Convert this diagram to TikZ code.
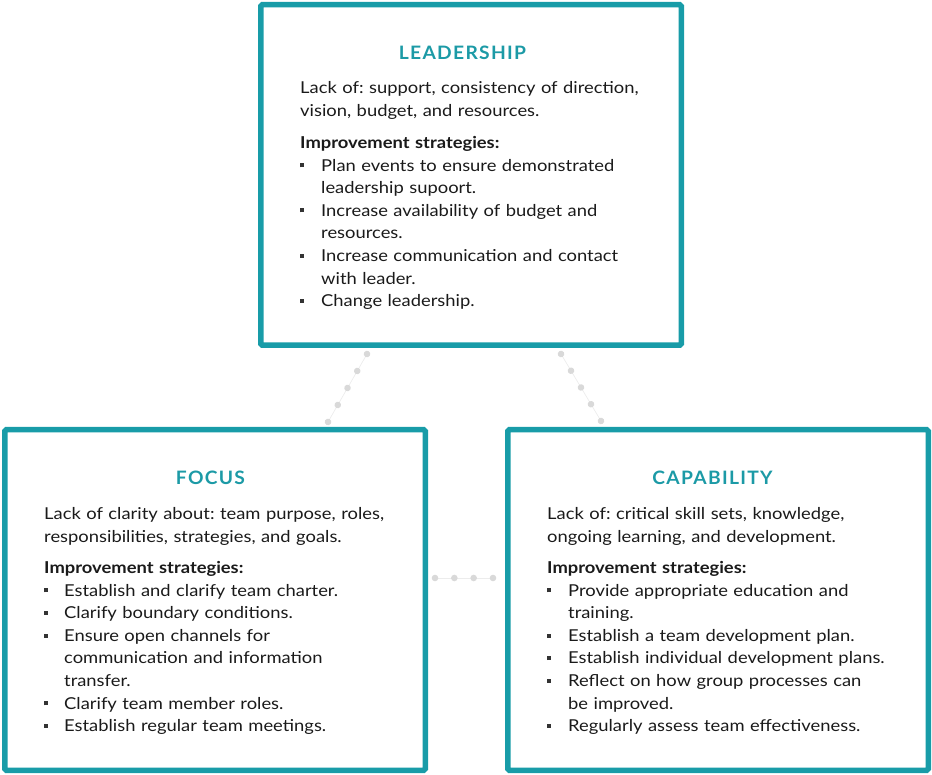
\documentclass[tikz,border=0pt]{standalone}
\usepackage{fontspec}
\setmainfont[FakeStretch=1.12]{Lato}
\newfontfamily\titlefont[LetterSpace=7,FakeStretch=1.04]{Lato}
\usetikzlibrary{decorations.markings}
\definecolor{teal}{HTML}{189CA8}
\definecolor{titleteal}{HTML}{1C9AA6}
\definecolor{dotgrey}{HTML}{D9D9D9}
\definecolor{dotline}{HTML}{ECECEC}
\definecolor{ink}{HTML}{1A1A1A}
\definecolor{bulletgrey}{HTML}{333333}
\frenchspacing
\newcommand\bsq{\textcolor{bulletgrey}{\rule[3.8pt]{4pt}{4pt}}}
\newcommand\bitem[2][21pt]{\par\hangindent=#1\hangafter=1\noindent\hbox to #1{\bsq\hfil}#2}
\tikzset{
  box/.style={draw=teal, line width=5.5pt, rounded corners=1.5pt, minimum width=420.5pt, minimum height=340.5pt, inner sep=0pt, outer sep=0pt},
  ttl/.style={anchor=base, inner sep=0pt, text=titleteal, font=\titlefont\bfseries\fontsize{18.5}{22}\selectfont},
  body/.style={anchor=base west, inner sep=0pt, text=ink, align=left, text width=380pt, font=\frenchspacing\fontsize{16.4}{22.6}\selectfont},
  dotlink/.style={draw=dotline, line width=0.7pt, postaction={decorate, decoration={markings, mark=between positions 0 and 1 step #1 with {\fill[dotgrey] (0,0) circle (3.3pt);}}}}
}
\begin{document}
\begin{tikzpicture}[x=1pt,y=-1pt]
\useasboundingbox (0,0) rectangle (932,775);
% boxes
\node[box] (lead) at (471,175) {};
\node[box] (focus) at (215,600) {};
\node[box] (cap) at (718,600) {};
% connector ends
\coordinate (la) at (367,354);
\coordinate (lb) at (328,422);
\coordinate (ra) at (561,354);
\coordinate (rb) at (601,421);
\coordinate (ma) at (435,578);
\coordinate (mb) at (493,578);
\draw[dotlink=0.2499] (la) -- (lb);
\draw[dotlink=0.2499] (ra) -- (rb);
\draw[dotlink=0.3333] (ma) -- (mb);
% LEADERSHIP
\node[ttl] (t1) at (462.5,60) {LEADERSHIP};
\node[body] (d1) at (300,93.5) {Lack of: support, consistency of direction,\\vision, budget, and resources.};
\node[body] (s1) at (300,148.5) {\textbf{Improvement strategies:}
\bitem{Plan events to ensure demonstrated\newline leadership supoort.}
\bitem{Increase availability of budget and\newline resources.}
\bitem{Increase communication and contact\newline with leader.}
\bitem{Change leadership.}};
% FOCUS
\node[ttl] (t2) at (210.5,485) {FOCUS};
\node[body] (d2) at (44,519.5) {Lack of clarity about: team purpose, roles,\\responsibilities, strategies, and goals.};
\node[body] (s2) at (44,573.5) {\textbf{Improvement strategies:}
\bitem[20pt]{Establish and clarify team charter.}
\bitem[20pt]{Clarify boundary conditions.}
\bitem[20pt]{Ensure open channels for\newline communication and information\newline transfer.}
\bitem[20pt]{Clarify team member roles.}
\bitem[20pt]{Establish regular team meetings.}};
% CAPABILITY
\node[ttl] (t3) at (712.5,485) {CAPABILITY};
\node[body] (d3) at (547,519.5) {Lack of: critical skill sets, knowledge,\\ongoing learning, and development.};
\node[body] (s3) at (547,573.5) {\textbf{Improvement strategies:}
\bitem{Provide appropriate education and\newline training.}
\bitem{Establish a team development plan.}
\bitem{Establish individual development plans.}
\bitem{Reflect on how group processes can\newline be improved.}
\bitem{Regularly assess team effectiveness.}};
\end{tikzpicture}
\end{document}
